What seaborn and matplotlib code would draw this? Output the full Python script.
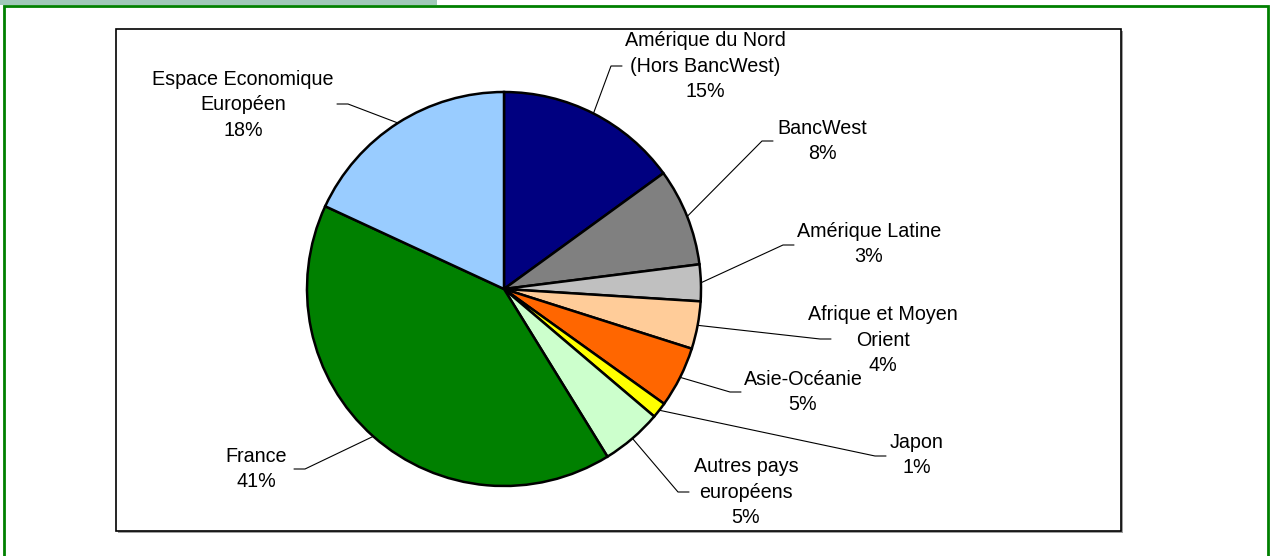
import numpy as np
import matplotlib
matplotlib.use("Agg")
import matplotlib.pyplot as plt
from matplotlib.patches import Rectangle
import seaborn as sns

# ── Data ───────────────────────────────────────────────────────
regions = ["Amérique du Nord\n(Hors BancWest)", "BancWest", "Amérique Latine",
           "Afrique et Moyen\nOrient", "Asie-Océanie", "Japon",
           "Autres pays\neuropéens", "France", "Espace Economique\nEuropéen"]
shares = [15.0, 8.0, 3.0, 3.9, 5.0, 1.3, 5.0, 40.7, 18.1]
colors = ["#000080", "#808080", "#C0C0C0", "#FFCC99", "#FF6600",
          "#FFFF00", "#CCFFCC", "#008000", "#99CCFF"]

# label layout in pixel coords (y from top): text centre, leader elbow, side
label_xy = [(705, 66), (822, 141), (869, 244), (883, 340), (803, 392),
            (917, 455), (746, 492), (256, 469), (243, 105)]
elbow_xy = [(611, 66), (762, 141), (783, 245), (820, 339), (730, 392),
            (875, 456), (678, 492), (305, 469), (348, 104)]
side = [1, 1, 1, 1, 1, 1, 1, -1, -1]

W, H = 1271, 556
cx, cy, r = 504, 289, 197

sns.set_theme(style="white")
plt.rcParams["font.family"] = ["Liberation Sans", "DejaVu Sans"]

fig = plt.figure(figsize=(W / 100, H / 100), dpi=100)
ax = fig.add_axes([0, 0, 1, 1])

def py(y):
    return H - y

# ── Frame decorations ──────────────────────────────────────────
ax.add_patch(Rectangle((0, py(5)), 437, 5, facecolor="#A0C8B8", edgecolor="none"))
ax.plot([4, 4, 1268, 1268], [0, py(6), py(6), 0], color="#008000", lw=2.0,
        solid_joinstyle="miter")
# inner chart box with a faint shadow
ax.add_patch(Rectangle((117.5, py(532.5)), 1005, 502, facecolor="#A0A0A0",
                       edgecolor="none"))
ax.add_patch(Rectangle((116, py(531)), 1005, 502, facecolor="white",
                       edgecolor="black", lw=1.2))

# ── Pie ────────────────────────────────────────────────────────
wedges, _ = ax.pie(shares, colors=colors, startangle=90, counterclock=False,
                   center=(cx, py(cy)), radius=r,
                   wedgeprops=dict(edgecolor="black", linewidth=1.8))

total = sum(shares)
cum = np.cumsum([0] + shares[:-1])
for i, name in enumerate(regions):
    frac = (cum[i] + shares[i] / 2) / total
    ang = np.deg2rad(90 - 360 * frac)
    x0, y0 = cx + r * np.cos(ang), py(cy) + r * np.sin(ang)
    ex, ey = elbow_xy[i]
    ax.plot([x0, ex, ex + 11 * side[i]], [y0, py(ey), py(ey)],
            color="black", lw=0.8)
    ax.text(label_xy[i][0], py(label_xy[i][1]), f"{name}\n{shares[i]:.0f}%",
            ha="center", va="center", fontsize=14.2, linespacing=1.41,
            multialignment="center", color="black")

ax.set_xlim(0, W)
ax.set_ylim(0, H)
ax.set_aspect("auto")
ax.axis("off")

plt.savefig("out.png", dpi=100)
plt.close()
